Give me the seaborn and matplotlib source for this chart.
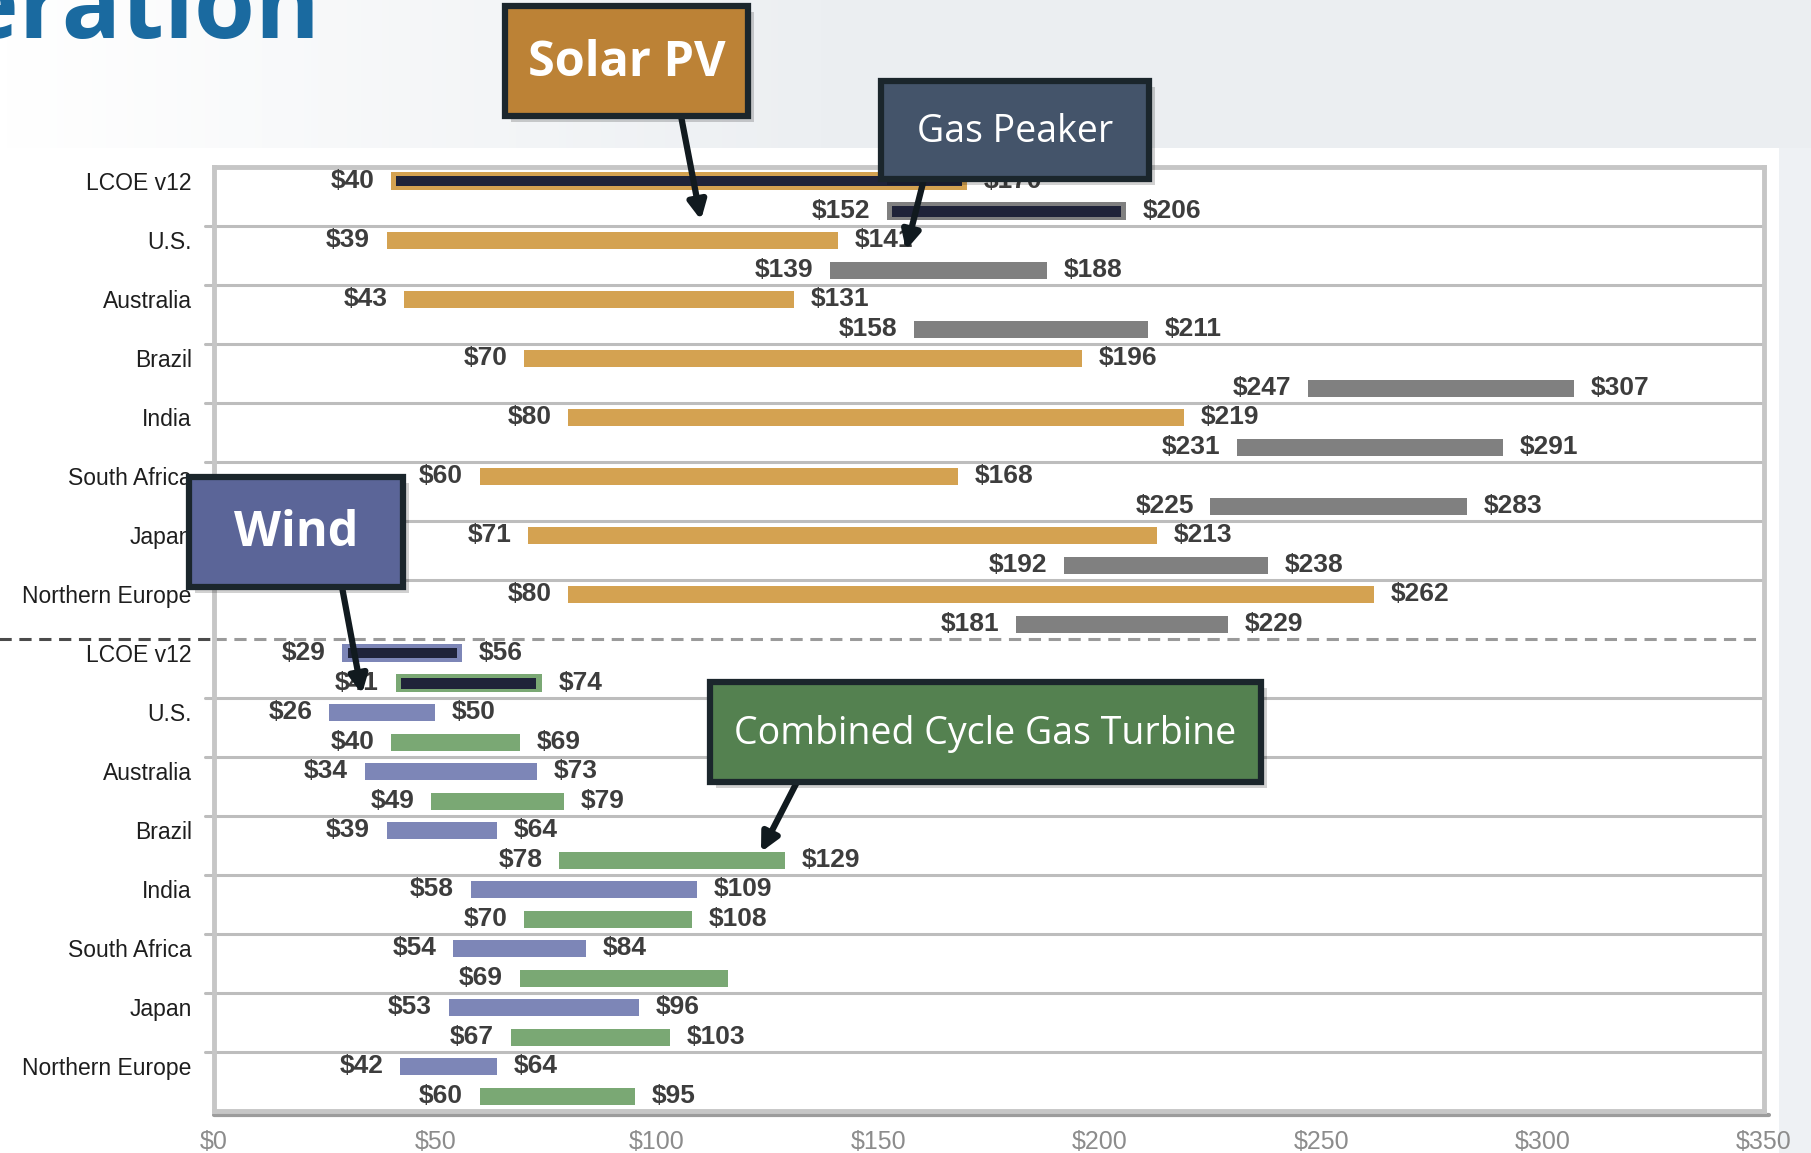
import matplotlib.pyplot as plt
import matplotlib.transforms as mtransforms
import numpy as np
import pandas as pd
import seaborn as sns
from matplotlib.patches import Rectangle

# --- Data (US$/MWh ranges) ---
regions = ["LCOE v12", "U.S.", "Australia", "Brazil", "India",
           "South Africa", "Japan", "Northern Europe"]

solar_low = [40, 39, 43, 70, 80, 60, 71, 80]
solar_high = [170, 141, 131, 196, 219, 168, 213, 262]
peaker_low = [152, 139, 158, 247, 231, 225, 192, 181]
peaker_high = [206, 188, 211, 307, 291, 283, 238, 229]
wind_low = [29, 26, 34, 39, 58, 54, 53, 42]
wind_high = [56, 50, 73, 64, 109, 84, 96, 64]
ccgt_low = [41, 40, 49, 78, 70, 69, 67, 60]
ccgt_high = [74, 69, 79, 129, 108, 116, 103, 95]
# the source leaves the South Africa CCGT upper label off
ccgt_high_labelled = [True, True, True, True, True, False, True, True]

x_ticks = [0, 50, 100, 150, 200, 250, 300, 350]

COLORS = {
    "Solar PV": "#D4A251",
    "Gas Peaker": "#808080",
    "Wind": "#7D86B7",
    "Combined Cycle Gas Turbine": "#7AA874",
}
LCOE_DARK = "#1F2339"

# --- Long table: section 0 = solar/peaker, section 1 = wind/ccgt ---
rows = []
for section, pair in enumerate([
    (("Solar PV", solar_low, solar_high, [True] * 8),
     ("Gas Peaker", peaker_low, peaker_high, [True] * 8)),
    (("Wind", wind_low, wind_high, [True] * 8),
     ("Combined Cycle Gas Turbine", ccgt_low, ccgt_high, ccgt_high_labelled)),
]):
    for slot, (tech, lows, highs, shown) in enumerate(pair):
        for i, region in enumerate(regions):
            rows.append({
                "tech": tech, "region": region, "low": lows[i], "high": highs[i],
                "group": section * 8 + i, "slot": slot, "show_high": shown[i],
            })
df = pd.DataFrame(rows)
df["y"] = df["group"] + np.where(df["slot"] == 0, 0.24, 0.75)

# --- Figure ---
sns.set_theme(style="white")
plt.rcParams["font.family"] = ["Liberation Sans", "DejaVu Sans"]

W, H = 1811, 1153
fig = plt.figure(figsize=(W / 100, H / 100), dpi=100)

# slide background
bg = fig.add_axes([0, 0, 1, 1], zorder=-5)
bg.set_xlim(0, W)
bg.set_ylim(H, 0)
bg.axis("off")
grad = np.linspace(0, 1, 256)
grad = np.clip(grad * 2.2, 0, 1)
top = np.array([1.0, 1.0, 1.0])
right = np.array([0.925, 0.937, 0.949])
band = (top[None, :] * (1 - grad[:, None]) + right[None, :] * grad[:, None])[None, :, :]
bg.imshow(band, extent=[0, W, 148, 0], aspect="auto")
bg.add_patch(Rectangle((0, 148), 1779, H - 148, color="white", lw=0, zorder=1))
bg.add_patch(Rectangle((1779, 148), W - 1779, H - 148, color="#eef1f4", lw=0, zorder=1))
bg.text(320, 38, "Generation", ha="right", va="baseline", fontsize=71,
        fontweight="bold", color="#1a6aa0", family=["Open Sans", "DejaVu Sans"])

# main chart
ax = fig.add_axes([214 / W, (H - 1111) / H, (1764 - 214) / W, (1111 - 167) / H])
ax.set_facecolor("white")

bar_h = 0.29
for r in df.itertuples():
    is_lcoe = r.region == "LCOE v12"
    ax.barh(r.y, r.high - r.low, left=r.low, height=0.31 if is_lcoe else bar_h,
            color=COLORS[r.tech], linewidth=0, zorder=3)
    if is_lcoe:
        ax.barh(r.y, r.high - r.low - 2.4, left=r.low + 1.2, height=0.18,
                color=LCOE_DARK, linewidth=0, zorder=4)
    lab_kw = dict(textcoords="offset points", va="center", fontsize=19,
                  fontweight="bold", color="#3d3d3d",
                  family=["Liberation Sans Narrow", "Liberation Sans"], zorder=5)
    ax.annotate(f"${r.low}", (r.low, r.y), xytext=(-12, 0), ha="right", **lab_kw)
    if r.show_high:
        ax.annotate(f"${r.high}", (r.high, r.y), xytext=(12, 0), ha="left", **lab_kw)

ax.set_xlim(0, 350)
ax.set_ylim(16, 0)

# group separators
sep_tr = mtransforms.blended_transform_factory(ax.transAxes, ax.transData)
for g in range(1, 16):
    if g == 8:
        ax.plot([0, 1], [g, g], transform=sep_tr, color="#9a9a9a", lw=2.2,
                ls=(0, (4, 2.5)), zorder=2)
        ax.plot([-0.139, 0], [g, g], transform=sep_tr, color="#4a4a4a", lw=2.2,
                ls=(0, (4, 2.5)), clip_on=False, zorder=2)
    else:
        ax.plot([-0.006, 1], [g, g], transform=sep_tr, color="#bdbdbd", lw=2.2,
                clip_on=False, zorder=2)

for side in ["left", "right", "top", "bottom"]:
    ax.spines[side].set_color("#c6c6c6")
    ax.spines[side].set_linewidth(3.5)
ax.plot([0, 1.003], [-0.004, -0.004], transform=ax.transAxes, color="#9c9c9c",
        lw=3, clip_on=False, zorder=1)

ax.set_xticks(x_ticks)
ax.set_xticklabels([f"${v}" for v in x_ticks], fontsize=18, color="#8c8c8c",
                   family=["Liberation Sans Narrow", "Liberation Sans"])
ax.set_yticks([g + 0.24 for g in range(16)])
ax.set_yticklabels(regions * 2, fontsize=16.5, color="#1e1e1e")
ax.tick_params(axis="x", length=0, pad=14)
ax.tick_params(axis="y", length=0, pad=16)
ax.set_xlabel("")
ax.set_ylabel("")

# callout boxes on top
ov = fig.add_axes([0, 0, 1, 1], zorder=10)
ov.set_xlim(0, W)
ov.set_ylim(H, 0)
ov.axis("off")
ov.patch.set_alpha(0)

callouts = [
    # label, box (x0, y0, x1, y1), fill, bold, size, arrow start, arrow end
    ("Solar PV", (505, 6, 748, 116), "#BC8236", True, 35, (681, 116), (701, 220)),
    ("Gas Peaker", (881, 81, 1149, 179), "#44546A", False, 27, (924, 179), (906, 250)),
    ("Wind", (189, 477, 403, 587), "#5B6598", True, 35, (342, 587), (362, 694)),
    ("Combined Cycle Gas Turbine", (710, 682, 1261, 782), "#548150", False, 27,
     (797, 782), (761, 852)),
]
for label, (x0, y0, x1, y1), fill, bold, size, a0, a1 in callouts:
    ov.annotate("", xy=a1, xytext=a0,
                arrowprops=dict(arrowstyle="-|>,head_length=0.9,head_width=0.45",
                                color="#111a1f", lw=4.5, shrinkA=0, shrinkB=0))
    ov.add_patch(Rectangle((x0 + 6, y0 + 6), x1 - x0, y1 - y0, color="#000000",
                           alpha=0.18, lw=0, zorder=2))
    ov.add_patch(Rectangle((x0, y0), x1 - x0, y1 - y0, facecolor=fill,
                           edgecolor="#1b262c", lw=4.5, zorder=3))
    ov.text((x0 + x1) / 2, (y0 + y1) / 2 + 2, label, ha="center", va="center",
            fontsize=size, color="white", fontweight="bold" if bold else "normal",
            family=["Open Sans", "DejaVu Sans"], zorder=4)

fig.savefig("out.png", dpi=100)
